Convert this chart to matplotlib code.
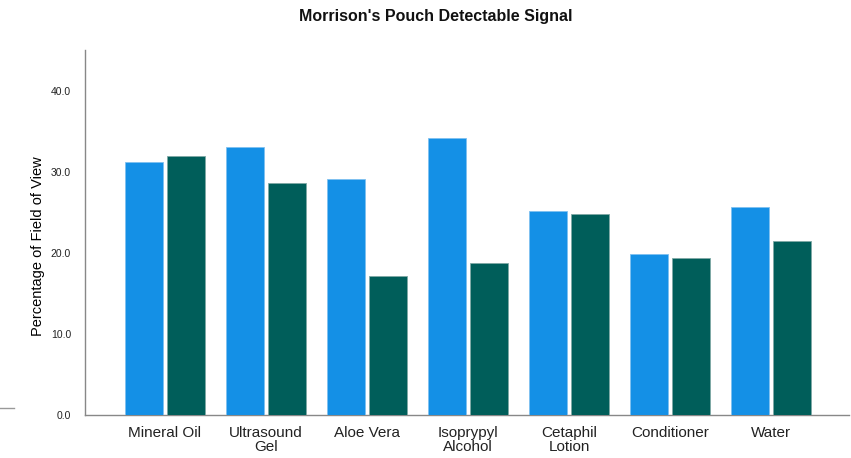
import matplotlib
matplotlib.use('Agg')
import matplotlib.pyplot as plt
import numpy as np
from matplotlib.lines import Line2D

plt.rcParams['font.family'] = ['Liberation Sans', 'DejaVu Sans']

# ─── Datos ────────────────────────────────────────────────────────────────────
categorias = ['Mineral Oil', 'Ultrasound\nGel', 'Aloe Vera', 'Isoprypyl\nAlcohol',
              'Cetaphil\nLotion', 'Conditioner', 'Water']
serie_a = [31.2, 33.0, 29.1, 34.2, 25.2, 19.8, 25.6]
serie_b = [31.9, 28.6, 17.1, 18.8, 24.8, 19.3, 21.4]
yticks = [0, 10, 20, 30, 40]

AZUL = '#1490e6'
VERDE = '#005e5a'

fig = plt.figure(figsize=(8.51, 4.58), dpi=100)
ax = fig.add_axes([85 / 851, 43 / 458, 764 / 851, 365 / 458])

x = np.arange(len(categorias))
ancho = 0.376
ax.bar(x - 0.208, serie_a, width=ancho, color=AZUL, edgecolor='#7fc0f0', linewidth=0.6, zorder=3)
ax.bar(x + 0.208, serie_b, width=ancho, color=VERDE, edgecolor='#7fa9a6', linewidth=0.6, zorder=3)

ax.set_xlim(-0.79, 6.77)
ax.set_ylim(0, 45)
ax.set_yticks(yticks)
ax.set_yticklabels([f'{v:.1f}' for v in yticks], fontsize=7.5, color='#222222')
ax.set_xticks(x)
ax.set_xticklabels(categorias, fontsize=11, color='#222222', linespacing=0.95)
ax.tick_params(axis='both', length=0)
ax.tick_params(axis='x', pad=8)
ax.tick_params(axis='y', pad=10)

for lado in ['top', 'right']:
    ax.spines[lado].set_visible(False)
for lado in ['left', 'bottom']:
    ax.spines[lado].set_color('#888888')
    ax.spines[lado].set_linewidth(1.0)

ax.set_ylabel('Percentage of Field of View', fontsize=10.5, color='#000000')
ax.yaxis.set_label_coords(-0.053, 0.463)

fig.text(436 / 851, 1 - 17 / 458, "Morrison's Pouch Detectable Signal",
         ha='center', va='center', fontsize=11.5, fontweight='bold', color='#111111')

# pequeña línea gris a la izquierda
fig.add_artist(Line2D([0, 14 / 851], [1 - 408 / 458, 1 - 408 / 458],
                      color='#999999', linewidth=1.0))

plt.savefig('out.png', dpi=100, facecolor='white')
plt.close()
